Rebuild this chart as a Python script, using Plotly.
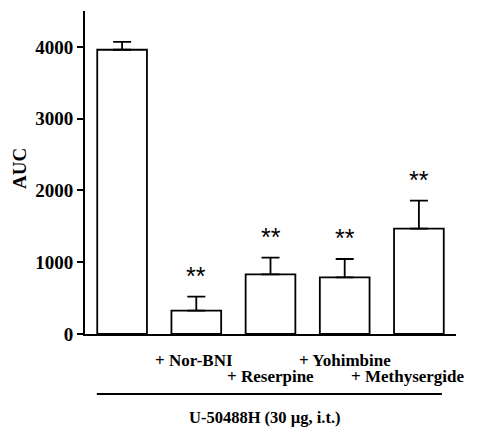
import plotly.graph_objects as go

categories = ["U-50488H", "+ Nor-BNI", "+ Reserpine", "+ Yohimbine", "+ Methysergide"]
auc_mean = [3960, 325, 832, 790, 1468]
auc_sem = [110, 195, 231, 255, 390]
significance = ["", "**", "**", "**", "**"]
tick_values = [0, 1000, 2000, 3000, 4000]
tick_labels = ["0", "1000", "2000", "3000", "4000"]
group_label = "U-50488H (30 µg, i.t.)"
y_title = "AUC"

xpos = list(range(len(categories)))
serif = "Liberation Serif"

fig = go.Figure()
fig.add_trace(go.Bar(
    x=xpos, y=auc_mean, width=0.67,
    marker=dict(color="white", line=dict(color="black", width=1.8)),
    error_y=dict(type="data", symmetric=False, array=auc_sem,
                 arrayminus=[0] * len(auc_sem), color="black",
                 thickness=1.8, width=9),
    showlegend=False,
))

annotations = []
for i, (m, s, sig) in enumerate(zip(auc_mean, auc_sem, significance)):
    if sig:
        annotations.append(dict(
            x=i, y=m + s, xref="x", yref="y", text=sig,
            showarrow=False, yshift=21, yanchor="middle",
            font=dict(family="Liberation Sans", size=25, color="black")))

# treatment labels under the axis (two staggered rows)
for i in range(1, len(categories)):
    row_shift = -26 if i % 2 == 1 else -42
    xs = -11 if i == 4 else (-2 if i == 1 else 0)
    annotations.append(dict(
        x=i, y=0, xref="x", yref="paper", text=categories[i], showarrow=False,
        yshift=row_shift, xshift=xs, yanchor="middle",
        font=dict(family=serif, size=17, color="black", weight="bold")))

annotations.append(dict(
    x=1.93, y=0, xref="x", yref="paper", text=group_label, showarrow=False,
    yshift=-83, yanchor="middle",
    font=dict(family=serif, size=16.5, color="black", weight="bold")))

annotations.append(dict(
    x=0, y=2300, xref="paper", yref="y", text=y_title, showarrow=False,
    xshift=-65, textangle=-90, xanchor="center",
    font=dict(family=serif, size=19, color="black", weight="bold")))

fig.update_layout(
    width=482, height=434,
    margin=dict(l=85, r=26, t=11, b=100),
    plot_bgcolor="white", paper_bgcolor="white",
    annotations=annotations,
    shapes=[dict(type="line", xref="x", yref="paper",
                 x0=-0.34, x1=4.31, y0=-0.186, y1=-0.186,
                 line=dict(color="black", width=2))],
    xaxis=dict(range=[-0.5, 4.5], showticklabels=False, ticks="",
               showgrid=False, zeroline=False, showline=True,
               linecolor="black", linewidth=2),
    yaxis=dict(range=[0, 4500], tickvals=tick_values, ticktext=tick_labels,
               ticks="outside", ticklen=6, tickwidth=2, tickcolor="black",
               showgrid=False, zeroline=False, showline=True,
               linecolor="black", linewidth=2,
               tickfont=dict(family=serif, size=19, color="black", weight="bold")),
)

fig.write_html("out.html")
